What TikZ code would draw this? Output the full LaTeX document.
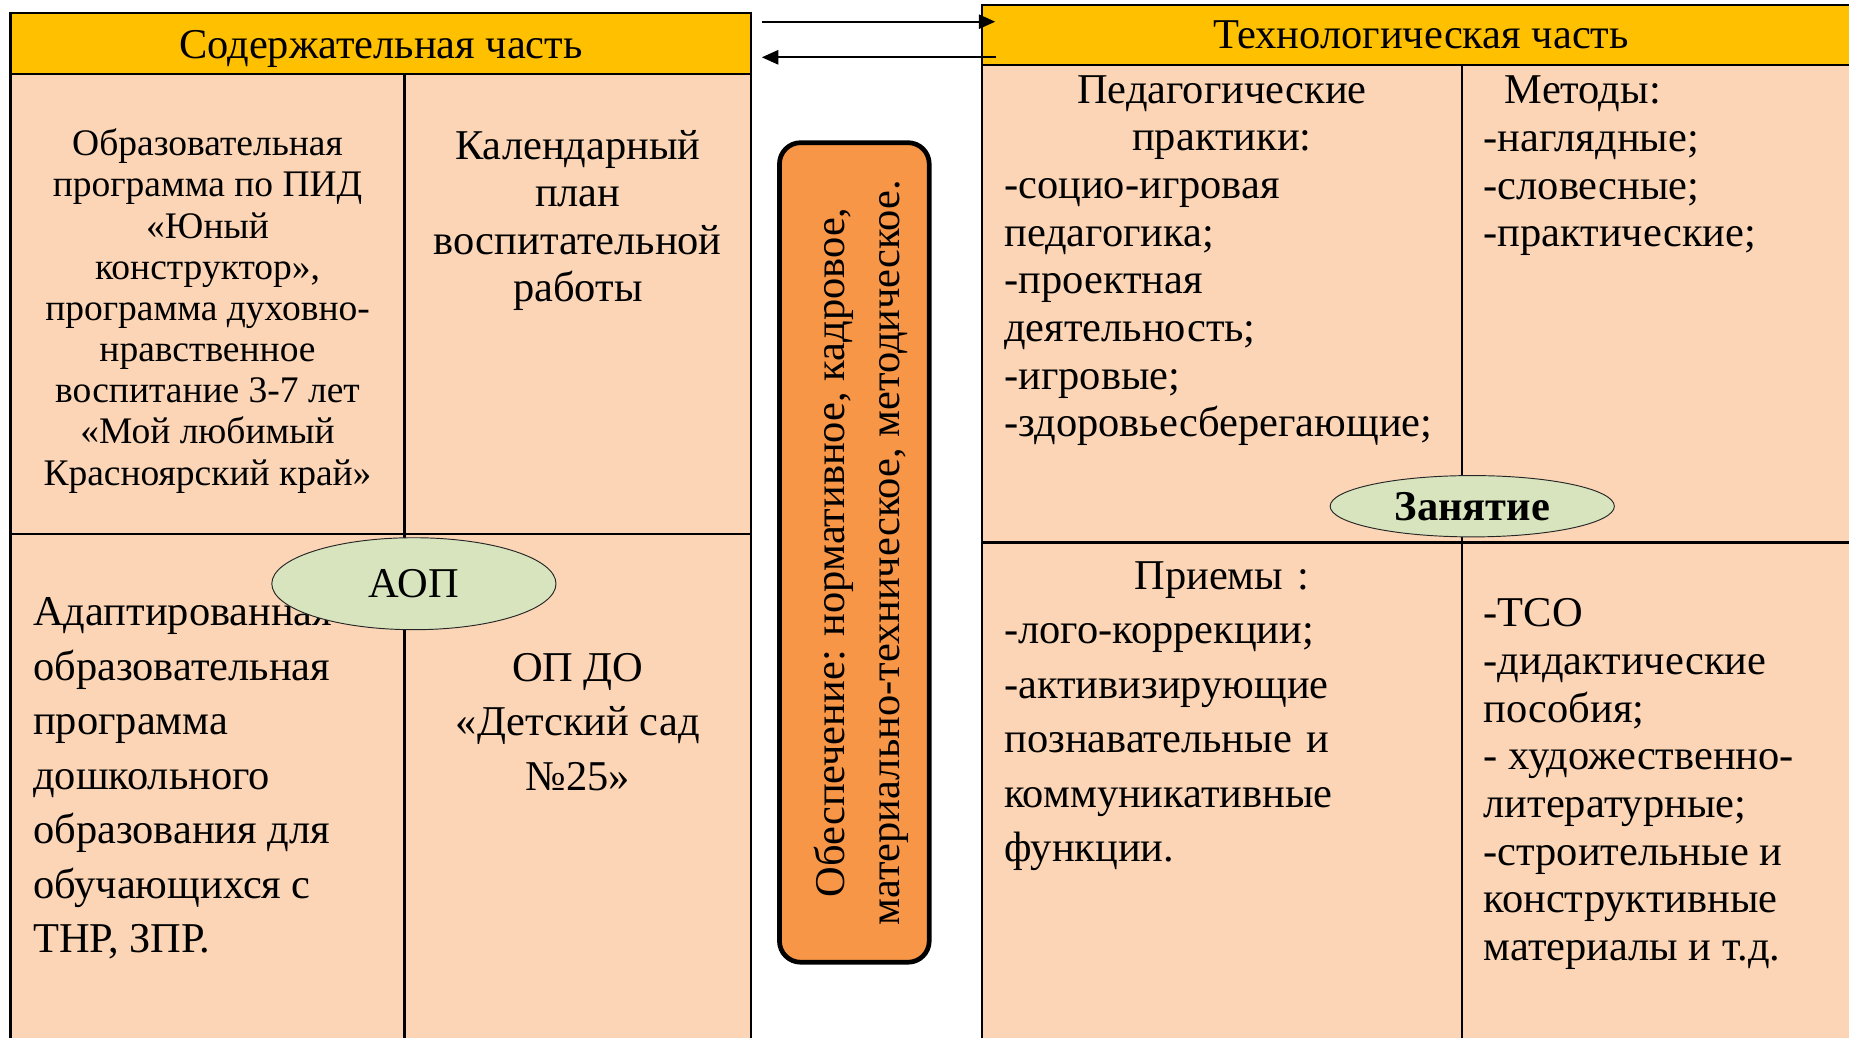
\documentclass[tikz,border=0pt]{standalone}
\usepackage{fontspec}
\setmainfont{Liberation Serif}
\usetikzlibrary{shapes.geometric,arrows.meta}

\definecolor{headyellow}{HTML}{FFC000}
\definecolor{peach}{HTML}{FBD5B5}
\definecolor{supplyorange}{HTML}{F79646}
\definecolor{ovalgreen}{HTML}{D7E4BD}

\begin{document}
\begin{tikzpicture}[x=1pt, y=-1pt,
	cell/.style={draw, line width=2pt, fill=peach},
	divider/.style={line width=2pt},
	header/.style={draw, line width=2pt, fill=headyellow, inner sep=0pt, text height=25pt, text depth=0pt, font=\fontsize{36}{40}\selectfont},
	oval/.style={ellipse, draw=black!85, line width=0.8pt, fill=ovalgreen, inner sep=0pt, font=\fontsize{36}{40}\selectfont},
	bigtext/.style={inner sep=0pt, font=\fontsize{36}{40.4}\selectfont},
	widetext/.style={inner sep=0pt, font=\fontsize{36}{46.2}\selectfont},
	link/.style={line width=2pt, -{Triangle[length=14pt,width=12pt]}}
]
	\useasboundingbox (0,0) rectangle (1568,880.25);

	% Left part
	\draw[cell] (9,63) rectangle (637,890);
	\draw[divider] (343,63) -- (343,890);
	\draw[divider] (9,453) -- (637,453);
	\node (content) at (323,37) [header, minimum width=628, minimum height=52] {Содержательная часть};

	% Right part
	\draw[cell] (833,55) rectangle (1577,890);
	\draw[divider] (1240,55) -- (1240,890);
	\draw[divider] (833,460) -- (1577,460);
	\node (tech) at (1205,29.5) [header, minimum width=744, minimum height=51, text height=23pt] {Технологическая часть};

	% Arrows between the parts
	\coordinate (outL) at (646,18.4);
	\coordinate (inR) at (844,18.4);
	\coordinate (outR) at (845,48.6);
	\coordinate (inL) at (646,48.6);
	\draw[link] (outL) -- (inR);
	\draw[link] (outR) -- (inL);

	% Supply box
	\node (supply) at (724.5,468.5) [rotate=90, draw, line width=4pt, rounded corners=18pt, fill=supplyorange, minimum width=695, minimum height=127] {};
	\node (supplytext) at (730.5,468.5) [rotate=90, inner sep=0pt, align=center, font=\fontsize{36}{47}\selectfont] {Обеспечение: нормативное, кадровое,\\ материально-техническое, методическое.};

	% Left texts
	\node (obr) at (176,263.7) [align=center, inner sep=0pt, font=\fontsize{31.8}{34.9}\selectfont] {Образовательная\\ программа по ПИД\\ «Юный\\ конструктор»,\\ программа духовно-\\ нравственное\\ воспитание 3-7 лет\\ «Мой любимый\\ Красноярский край»};
	\node (cal) at (490,187) [bigtext, align=center] {Календарный\\ план\\ воспитательной\\ работы};
	\node (adapt) at (28,660.3) [widetext, anchor=west, align=left] {Адаптированная\\ образовательная\\ программа\\ дошкольного\\ образования для\\ обучающихся с\\ ТНР, ЗПР.};
	\node (opdo) at (490,612) [widetext, align=center] {ОП ДО\\ «Детский сад\\ №25»};
	\node (aop) at (351,495) [oval, minimum width=241, minimum height=78] {АОП};

	% Right texts
	\node (ped) at (851.5,221) [bigtext, anchor=west, text width=369, align=left] {\makebox[\linewidth]{Педагогические}\\ \makebox[\linewidth]{практики:}\\ -социо-игровая\\ педагогика;\\ -проектная\\ деятельность;\\ -игровые;\\ -здоровьесберегающие;};
	\node (met) at (1258,140.7) [bigtext, anchor=west, align=left] {\hspace*{18pt}Методы:\\ -наглядные;\\ -словесные;\\ -практические;};
	\node (pri) at (851.5,607.5) [widetext, anchor=west, text width=369, align=left] {\makebox[\linewidth]{Приемы :}\\ -лого-коррекции;\\ -активизирующие\\ познавательные и\\ коммуникативные\\ функции.};
	\node (tso) at (1258,664.9) [bigtext, anchor=west, align=left] {-ТСО\\ -дидактические\\ пособия;\\ - художественно-\\ литературные;\\ -строительные и\\ конструктивные\\ материалы и т.д.};
	\node (lesson) at (1248.5,429.3) [oval, minimum width=241, minimum height=52, font=\bfseries\fontsize{36}{40}\selectfont] {Занятие};
\end{tikzpicture}
\end{document}
